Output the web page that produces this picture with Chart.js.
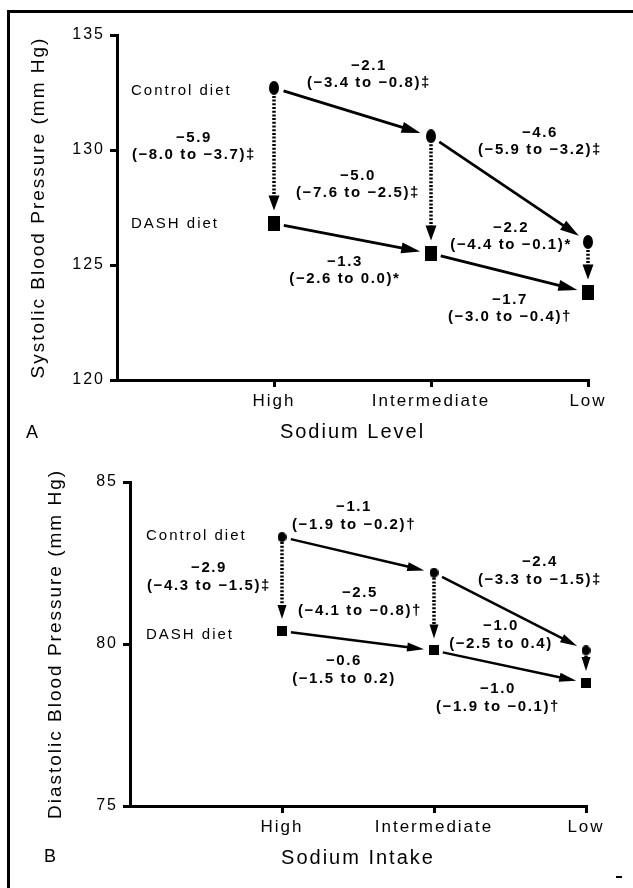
<!DOCTYPE html>
<html>
<head>
<meta charset="utf-8">
<script src="https://cdn.jsdelivr.net/npm/chart.js@4.4.1/dist/chart.umd.min.js"></script>
<style>
  body { margin: 0; background: #fff; }
  #page { position: relative; width: 633px; height: 888px; overflow: hidden; background: #fff; }
  #frame { position: absolute; left: 7px; top: 10px; width: 640px; height: 900px; border-top: 3px solid #000; border-left: 3px solid #000; }
  #tick { position: absolute; left: 616px; top: 876px; width: 6px; height: 2px; background: #000; }
  canvas { position: absolute; left: 0; }
</style>
</head>
<body>
<div id="page">
  <div id="frame"></div>
  <canvas id="chartA" width="633" height="444" style="top:0"></canvas>
  <canvas id="chartB" width="633" height="444" style="top:444px"></canvas>
  <div id="tick"></div>
</div>
<script>
const sodiumLevels = ["High", "Intermediate", "Low"];
const dietNames = ["Control diet", "DASH diet"];

const systolicControl = [132.7, 130.6, 126.0];
const systolicDash = [126.8, 125.5, 123.8];
const systolicRange = [120, 135];
const systolicNotes = [
  ["−2.1", "(−3.4 to −0.8)‡"],
  ["−5.9", "(−8.0 to −3.7)‡"],
  ["−4.6", "(−5.9 to −3.2)‡"],
  ["−5.0", "(−7.6 to −2.5)‡"],
  ["−2.2", "(−4.4 to −0.1)*"],
  ["−1.3", "(−2.6 to 0.0)*"],
  ["−1.7", "(−3.0 to −0.4)†"],
];

const diastolicControl = [83.3, 82.2, 79.8];
const diastolicDash = [80.4, 79.8, 78.8];
const diastolicRange = [75, 85];
const diastolicNotes = [
  ["−1.1", "(−1.9 to −0.2)†"],
  ["−2.9", "(−4.3 to −1.5)‡"],
  ["−2.4", "(−3.3 to −1.5)‡"],
  ["−2.5", "(−4.1 to −0.8)†"],
  ["−1.0", "(−2.5 to 0.4)"],
  ["−0.6", "(−1.5 to 0.2)"],
  ["−1.0", "(−1.9 to −0.1)†"],
];

// where the text sits, in axis units
const systolicNotePos = [[1.605, 133.65], [0.49, 130.52], [2.694, 130.74], [1.535, 128.87], [2.51, 126.61], [1.452, 125.13], [2.503, 123.48]];
const systolicDietPos = [[0.089, 132.57], [0.089, 126.78]];
const diastolicNotePos = [[1.474, 84.23], [0.52, 82.35], [2.697, 82.53], [1.513, 81.57], [2.441, 80.56], [1.408, 79.48], [2.421, 78.61]];
const diastolicDietPos = [[0.105, 83.33], [0.105, 80.28]];

const FONT = "'Liberation Sans', Arial, sans-serif";

function markerImg(shape, w, h) {
  const c = document.createElement("canvas");
  c.width = w;
  c.height = h;
  const g = c.getContext("2d");
  g.fillStyle = "#000";
  if (shape === "ellipse") {
    g.beginPath();
    g.ellipse(w / 2, h / 2, w / 2, h / 2, 0, 0, Math.PI * 2);
    g.fill();
  } else {
    g.fillRect(0, 0, w, h);
  }
  return c;
}

function arrow(ctx, x1, y1, x2, y2, gap1, gap2, head, dotted, lw) {
  const dx = x2 - x1, dy = y2 - y1;
  const len = Math.hypot(dx, dy);
  const ux = dx / len, uy = dy / len;
  const sx = x1 + ux * gap1, sy = y1 + uy * gap1;
  const tx = x2 - ux * gap2, ty = y2 - uy * gap2;
  const bx = tx - ux * head[0], by = ty - uy * head[0];
  ctx.save();
  ctx.strokeStyle = "#000";
  ctx.fillStyle = "#000";
  ctx.lineWidth = lw;
  ctx.setLineDash(dotted ? [2, 1.7] : []);
  ctx.beginPath();
  ctx.moveTo(sx, sy);
  ctx.lineTo(bx + ux, by + uy);
  ctx.stroke();
  ctx.setLineDash([]);
  ctx.beginPath();
  ctx.moveTo(tx, ty);
  ctx.lineTo(bx - uy * head[1] / 2, by + ux * head[1] / 2);
  ctx.lineTo(bx + uy * head[1] / 2, by - ux * head[1] / 2);
  ctx.closePath();
  ctx.fill();
  ctx.restore();
}

const arrowPlugin = {
  id: "arrows",
  beforeDraw(chart) {
    chart.ctx.letterSpacing = "2px";
  },
  beforeDatasetsDraw(chart, args, o) {
    const ctx = chart.ctx;
    const xs = chart.scales.x, ys = chart.scales.y;
    const pts = chart.data.datasets.map((ds) =>
      ds.data.map((p) => [xs.getPixelForValue(p.x), ys.getPixelForValue(p.y)])
    );
    pts.forEach((row) => {
      for (let i = 0; i < row.length - 1; i++) {
        arrow(ctx, row[i][0], row[i][1], row[i + 1][0], row[i + 1][1], o.solidGap[0], o.solidGap[1], o.solidHead, false, o.lineWidth);
      }
    });
    pts[0].forEach((p, i) => {
      const q = pts[1][i];
      arrow(ctx, p[0], p[1], q[0], q[1], o.dotGap[0], o.dotGap[1], o.dotHead, true, o.dotWidth);
    });
  },
  afterDatasetsDraw(chart, args, o) {
    const ctx = chart.ctx;
    const xs = chart.scales.x, ys = chart.scales.y;
    ctx.save();
    ctx.fillStyle = "#000";
    ctx.textBaseline = "middle";
    ctx.letterSpacing = "1.6px";
    ctx.font = "bold 15px " + FONT;
    ctx.textAlign = "center";
    o.notes.forEach((lines, i) => {
      const x = xs.getPixelForValue(o.notePos[i][0]);
      const y = ys.getPixelForValue(o.notePos[i][1]);
      lines.forEach((t, k) => ctx.fillText(t, x, y + k * o.lineGap));
    });
    ctx.letterSpacing = "2px";
    ctx.font = "15px " + FONT;
    ctx.textAlign = "left";
    dietNames.forEach((t, i) => {
      ctx.fillText(t, xs.getPixelForValue(o.dietPos[i][0]), ys.getPixelForValue(o.dietPos[i][1]));
    });
    ctx.font = "18px " + FONT;
    ctx.textAlign = "center";
    ctx.fillText(o.panel[0], o.panel[1], o.panel[2]);
    ctx.restore();
  },
};

function makePanel(id, control, dash, range, notes, notePos, dietPos, cfg) {
  const toPts = (arr) => arr.map((v, i) => ({ x: i + 1, y: v }));
  return new Chart(document.getElementById(id), {
    type: "scatter",
    data: {
      datasets: [
        { label: dietNames[0], data: toPts(control), pointStyle: markerImg("ellipse", cfg.circle[0], cfg.circle[1]), pointRadius: 5, clip: false },
        { label: dietNames[1], data: toPts(dash), pointStyle: markerImg("rect", cfg.square[0], cfg.square[1]), pointRadius: 5, clip: false },
      ],
    },
    options: {
      responsive: false,
      animation: false,
      layout: { padding: cfg.padding },
      plugins: {
        legend: { display: false },
        tooltip: { enabled: false },
        arrows: {
          notes: notes,
          notePos: notePos,
          dietPos: dietPos,
          panel: cfg.panel,
          lineGap: cfg.lineGap,
          lineWidth: cfg.lineWidth,
          dotWidth: 3.5,
          solidGap: cfg.solidGap,
          dotGap: cfg.dotGap,
          solidHead: cfg.solidHead,
          dotHead: cfg.dotHead,
        },
      },
      scales: {
        x: {
          type: "linear",
          min: 0,
          max: sodiumLevels.length,
          afterBuildTicks: (s) => { s.ticks = sodiumLevels.map((_, i) => ({ value: i + 1 })); },
          afterFit: (s) => { s.height = cfg.xHeight; },
          grid: { drawOnChartArea: false, color: "#000", lineWidth: 3, tickLength: 7 },
          border: { color: "#000", width: 3 },
          ticks: { color: "#000", padding: 4, font: { family: FONT, size: 17 }, callback: (v) => sodiumLevels[v - 1] },
          title: { display: true, text: cfg.xTitle, color: "#000", font: { family: FONT, size: 20 }, padding: { top: 0, bottom: cfg.xTitlePad } },
        },
        y: {
          min: range[0],
          max: range[1],
          afterFit: (s) => { s.width = cfg.yWidth; },
          grid: { drawOnChartArea: false, color: "#000", lineWidth: 3, tickLength: 7 },
          border: { color: "#000", width: 3 },
          ticks: { color: "#000", stepSize: 5, padding: 5, font: { family: FONT, size: 16 } },
          title: { display: true, text: cfg.yTitle, color: "#000", font: { family: FONT, size: 19 }, padding: { top: cfg.yTitlePad, bottom: 0 } },
        },
      },
    },
    plugins: [arrowPlugin],
  });
}

makePanel("chartA", systolicControl, systolicDash, systolicRange, systolicNotes, systolicNotePos, systolicDietPos, {
  padding: { left: 0, top: 35, right: 45, bottom: 0 },
  yWidth: 117,
  xHeight: 64,
  xTitle: "Sodium Level",
  yTitle: "Systolic Blood Pressure (mm Hg)",
  xTitlePad: 0,
  yTitlePad: 27,
  panel: ["A", 33, 433],
  lineGap: 17,
  lineWidth: 2.8,
  circle: [10, 14],
  square: [12, 15],
  solidGap: [10, 11],
  dotGap: [8, 13],
  solidHead: [19, 11],
  dotHead: [15, 11],
});

makePanel("chartB", diastolicControl, diastolicDash, diastolicRange, diastolicNotes, diastolicNotePos, diastolicDietPos, {
  padding: { left: 0, top: 38, right: 47, bottom: 0 },
  yWidth: 130,
  xHeight: 82,
  xTitle: "Sodium Intake",
  yTitle: "Diastolic Blood Pressure (mm Hg)",
  xTitlePad: 18,
  yTitlePad: 44,
  panel: ["B", 51, 413],
  lineGap: 18,
  lineWidth: 2.5,
  circle: [9, 10],
  square: [10, 10],
  solidGap: [9, 10],
  dotGap: [5, 12],
  solidHead: [17, 9],
  dotHead: [14, 9],
});
</script>
</body>
</html>
